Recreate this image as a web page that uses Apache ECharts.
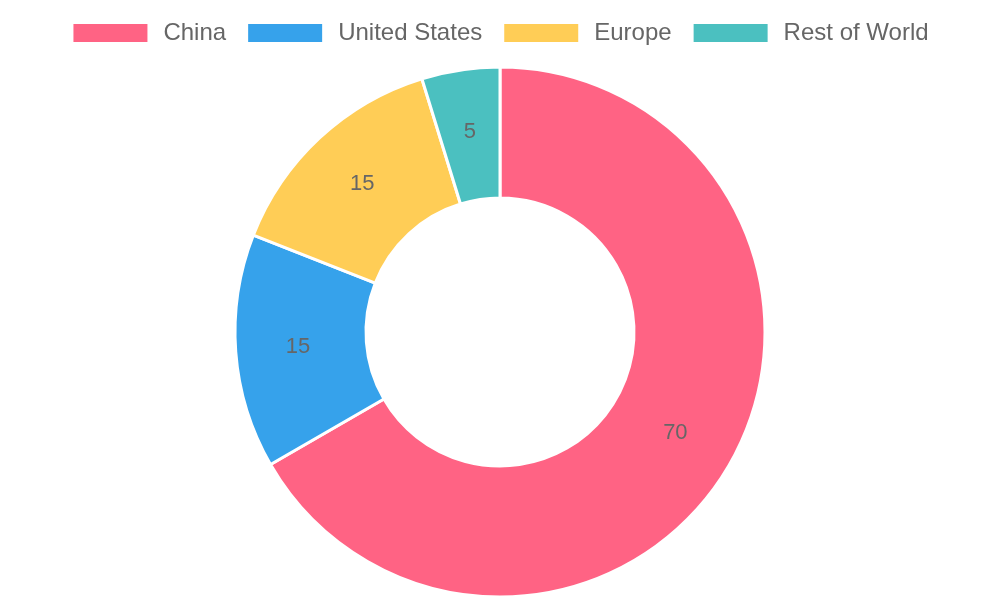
<!DOCTYPE html>
<html><head><meta charset="utf-8">
<script src="https://cdn.jsdelivr.net/npm/echarts@6/dist/echarts.min.js"></script>
<style>html,body{margin:0;padding:0;background:#fff}#c{width:1000px;height:600px}</style>
</head><body><div id="c"></div>
<script>
const categories = ["China", "United States", "Europe", "Rest of World"];
const values = [70, 15, 15, 5];
const colors = ["#ff6384", "#36a2eb", "#ffcd56", "#4bc0c0"];

const chart = echarts.init(document.getElementById('c'), null, {renderer: 'canvas'});
chart.setOption({
  animation: false,
  color: colors,
  legend: {
    top: 16,
    left: 'center',
    itemWidth: 76,
    itemHeight: 20,
    itemGap: 20,
    icon: 'rect',
    textStyle: {fontFamily: 'Liberation Sans', fontSize: 24, color: '#666', padding: [0, 0, 0, 10]},
    data: categories
  },
  series: [{
    type: 'pie',
    center: [500, 332],
    radius: [134, 265],
    startAngle: 90,
    clockwise: true,
    avoidLabelOverlap: false,
    itemStyle: {borderColor: '#fff', borderWidth: 3},
    label: {
      show: true,
      position: 'inside',
      formatter: '{c}',
      fontFamily: 'Liberation Sans',
      fontSize: 22,
      color: '#666'
    },
    labelLine: {show: false},
    emphasis: {disabled: true},
    data: categories.map((n, i) => ({name: n, value: values[i]}))
  }]
});
</script></body></html>
